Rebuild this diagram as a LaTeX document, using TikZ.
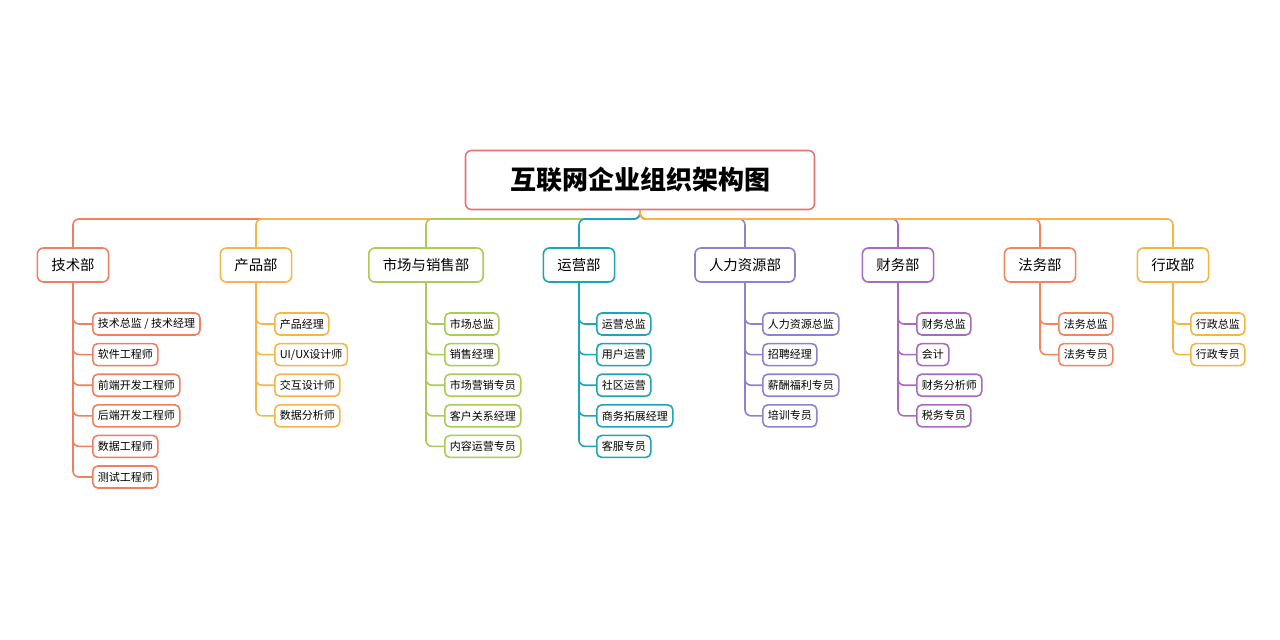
\documentclass[tikz,border=0pt]{standalone}
\usepackage{fontspec}
\setmainfont{Noto Sans CJK SC}
\usetikzlibrary{positioning}
\definecolor{ctitle}{HTML}{E57373}
\definecolor{ctech}{HTML}{EE8060}
\definecolor{cprod}{HTML}{F5B549}
\definecolor{cmkt}{HTML}{A8CC55}
\definecolor{cops}{HTML}{1FA3B8}
\definecolor{chr}{HTML}{8C82D2}
\definecolor{cfin}{HTML}{A66BBF}
\definecolor{claw}{HTML}{F0865E}
\definecolor{cadm}{HTML}{F5B545}
\begin{document}
\begin{tikzpicture}
  [x=0.5pt,y=-0.5pt,
   titlebox/.style={draw=ctitle,line width=0.8pt,rounded corners=3pt,fill=white,
     minimum width=174.5pt,minimum height=29.5pt,font=\fontsize{13}{15}\selectfont\bfseries},
   deptbox/.style={draw=#1,line width=0.8pt,rounded corners=3pt,fill=white,
     minimum height=17pt,inner xsep=7pt,font=\fontsize{7.2}{9}\selectfont},
   leafbox/.style={draw=#1,line width=0.8pt,rounded corners=2.5pt,fill=white,anchor=west,
     minimum height=11pt,inner xsep=2.5pt,inner ysep=0pt,font=\fontsize{5.5}{7}\selectfont},
   conn/.style={draw=#1,line width=0.8pt,rounded corners=3pt}]
  \useasboundingbox (0,0) rectangle (1280,639);
  \node (title) [titlebox] at (640,180) {互联网企业组织架构图};
  % departments
  \node (tech) [deptbox=ctech] at (73,265) {技术部};
  \node (prod) [deptbox=cprod] at (256,265) {产品部};
  \node (mkt)  [deptbox=cmkt]  at (426,265) {市场与销售部};
  \node (ops)  [deptbox=cops]  at (579,265) {运营部};
  \node (hr)   [deptbox=chr]   at (745,265) {人力资源部};
  \node (fin)  [deptbox=cfin]  at (898,265) {财务部};
  \node (law)  [deptbox=claw]  at (1040,265) {法务部};
  \node (adm)  [deptbox=cadm]  at (1173,265) {行政部};
  \coordinate (bus) at (640,219);
  \begin{scope}[on background layer/.style={}]
  \foreach \d/\c in {tech/ctech,prod/cprod,mkt/cmkt,ops/cops,hr/chr,fin/cfin,law/claw,adm/cadm}
    \draw [conn=\c] (title.south) -- (bus) -| (\d.north);
  \end{scope}
  % positions
  \foreach \d/\c/\x/\list in {
      tech/ctech/92/{技术总监 / 技术经理,软件工程师,前端开发工程师,后端开发工程师,数据工程师,测试工程师},
      prod/cprod/274/{产品经理,UI/UX设计师,交互设计师,数据分析师},
      mkt/cmkt/444/{市场总监,销售经理,市场营销专员,客户关系经理,内容运营专员},
      ops/cops/596/{运营总监,用户运营,社区运营,商务拓展经理,客服专员},
      hr/chr/762/{人力资源总监,招聘经理,薪酬福利专员,培训专员},
      fin/cfin/916/{财务总监,会计,财务分析师,税务专员},
      law/claw/1058/{法务总监,法务专员},
      adm/cadm/1190/{行政总监,行政专员}}
    \foreach \t [count=\i] in \list {
      \node (\d\i) [leafbox=\c] at (\x,293.4+30.6*\i) {\t};
      \draw [conn=\c] (\d.south) |- (\d\i.west);
    }
\end{tikzpicture}
\end{document}
